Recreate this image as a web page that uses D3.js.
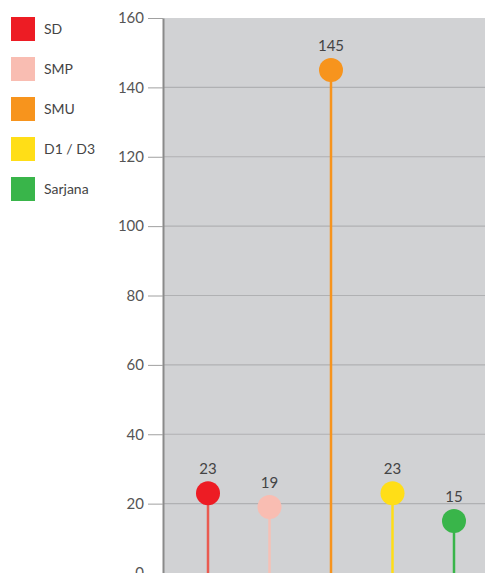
<!DOCTYPE html>
<html>
<head>
<meta charset="utf-8">
<script src="https://cdn.jsdelivr.net/npm/d3@7"></script>
<style>
  body { margin: 0; background: #fff; }
  svg { display: block; font-family: Lato, "Open Sans", sans-serif; }
</style>
</head>
<body>
<svg id="chart"></svg>
<script>
// data
const categories = ['SD', 'SMP', 'SMU', 'D1 / D3', 'Sarjana'];
const values = [23, 19, 145, 23, 15];
const yTicks = [0, 20, 40, 60, 80, 100, 120, 140, 160];
const colors = ['#ed1c24', '#f9bdb2', '#f7941d', '#ffde17', '#39b54a'];
const stemColors = ['#ea5b50', '#f6c0b6', '#f7941d', '#ffde17', '#39b54a'];

const width = 485, height = 573;
const margin = { top: 18, left: 163 };

const svg = d3.select('#chart').attr('width', width).attr('height', height);

const y = d3.scaleLinear().domain([0, 160]).range([height, margin.top]);
const x = d3.scalePoint().domain(categories).range([208, 454]);

// plot background
svg.append('rect')
  .attr('x', margin.left)
  .attr('y', margin.top)
  .attr('width', width - margin.left)
  .attr('height', height - margin.top)
  .attr('fill', '#d1d2d4');

// gridlines
svg.append('g')
  .selectAll('line')
  .data(yTicks.filter(d => d > 0 && d < 160))
  .join('line')
  .attr('x1', margin.left)
  .attr('x2', width)
  .attr('y1', d => y(d))
  .attr('y2', d => y(d))
  .attr('stroke', '#b0b1b3')
  .attr('stroke-width', 1.2);

// y axis
const yAxis = svg.append('g')
  .attr('transform', `translate(${margin.left},0)`)
  .call(d3.axisLeft(y).tickValues(yTicks).tickSizeInner(15).tickSizeOuter(0).tickPadding(4));
yAxis.select('.domain').attr('stroke', '#8a8a8a').attr('stroke-width', 2);
yAxis.selectAll('.tick line').attr('stroke', '#a0a0a0');
yAxis.selectAll('.tick text')
  .attr('fill', '#555')
  .style('font-size', '15px')
  .style('font-family', 'Lato, "Open Sans", sans-serif');

// lollipops
const rows = categories.map((c, i) => ({ c, v: values[i], i }));
const pops = svg.append('g').selectAll('g').data(rows).join('g');

pops.append('line')
  .attr('x1', d => x(d.c))
  .attr('x2', d => x(d.c))
  .attr('y1', y(0))
  .attr('y2', d => y(d.v))
  .attr('stroke', d => stemColors[d.i])
  .attr('stroke-width', 2.5);

pops.append('circle')
  .attr('cx', d => x(d.c))
  .attr('cy', d => y(d.v))
  .attr('r', 12)
  .attr('fill', d => colors[d.i]);

pops.append('text')
  .attr('x', d => x(d.c))
  .attr('y', d => y(d.v) - 19)
  .attr('text-anchor', 'middle')
  .attr('fill', '#444')
  .style('font-size', '15px')
  .text(d => d.v);

// legend
const legend = svg.append('g').attr('transform', 'translate(11,17)');
const items = legend.selectAll('g').data(categories).join('g')
  .attr('transform', (d, i) => `translate(0,${i * 40})`);
items.append('rect')
  .attr('width', 24)
  .attr('height', 24)
  .attr('fill', (d, i) => colors[i]);
items.append('text')
  .attr('x', 33)
  .attr('y', 12)
  .attr('dy', '0.35em')
  .attr('fill', '#444')
  .style('font-size', '14px')
  .text(d => d);
</script>
</body>
</html>
